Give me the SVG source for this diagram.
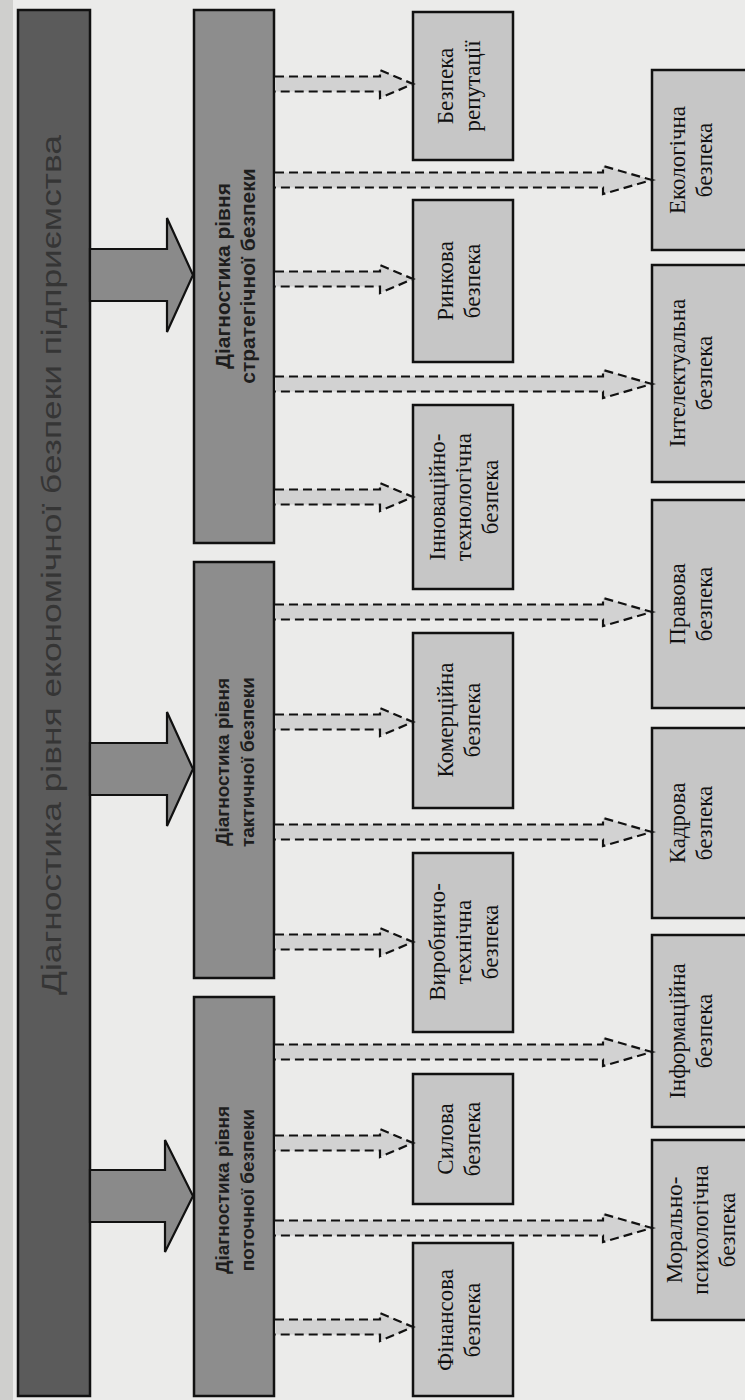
<svg xmlns="http://www.w3.org/2000/svg" width="745" height="1400" viewBox="0 0 745 1400">
<style>
.bg{fill:#ebebea}
.main{fill:#5b5b5b;stroke:#111;stroke-width:2.5}
.diag{fill:#8d8d8d;stroke:#111;stroke-width:2.5}
.box{fill:#c6c6c6;stroke:#111;stroke-width:2.5}
.big{fill:#8a8a8a;stroke:#111;stroke-width:2.2}
.da{fill:#d2d2d2;stroke:#111;stroke-width:2.2;stroke-dasharray:9 5}
.t{font-family:"Liberation Serif","Times New Roman",serif;font-size:23px;fill:#111;text-anchor:middle;dominant-baseline:central}
.td{font-family:"Liberation Sans",Arial,sans-serif;font-size:19px;font-weight:bold;fill:#1e1e1e;text-anchor:middle;dominant-baseline:central}
.tm{font-family:"Liberation Sans",Arial,sans-serif;font-size:27px;fill:#353535;text-anchor:middle;dominant-baseline:central}
</style>
<rect class="bg" x="0" y="0" width="745" height="1400"/>
<rect x="0" y="0" width="13" height="1400" fill="#cfcfcd"/>

<g id="main">
<rect class="main" x="18" y="10" width="72" height="1386"/>
<text class="tm" transform="translate(52,565) rotate(-90)" textLength="860" lengthAdjust="spacingAndGlyphs">Діагностика рівня економічної безпеки підприємства</text>
</g>

<g id="strategic">
<rect class="diag" x="194" y="10" width="80" height="533"/>
<text class="td" style="font-size:21px" transform="translate(234,276) rotate(-90)"><tspan x="0" y="-12.5">Діагностика рівня</tspan><tspan x="0" y="12.5">стратегічної безпеки</tspan></text>
</g>
<g id="tactical">
<rect class="diag" x="194" y="562" width="80" height="416"/>
<text class="td" transform="translate(234,762) rotate(-90)"><tspan x="0" y="-12.5">Діагностика рівня</tspan><tspan x="0" y="12.5">тактичної безпеки</tspan></text>
</g>
<g id="current">
<rect class="diag" x="194" y="997" width="80" height="399"/>
<text class="td" transform="translate(234,1190) rotate(-90)"><tspan x="0" y="-12.5">Діагностика рівня</tspan><tspan x="0" y="12.5">поточної безпеки</tspan></text>
</g>

<g id="reputation">
<rect class="box" x="413" y="12" width="100" height="148"/>
<text class="t" transform="translate(458,86) rotate(-90)"><tspan x="0" y="-13.5">Безпека</tspan><tspan x="0" y="13.5">репутації</tspan></text>
</g>
<g id="market">
<rect class="box" x="413" y="200" width="100" height="162"/>
<text class="t" transform="translate(458,281) rotate(-90)"><tspan x="0" y="-13.5">Ринкова</tspan><tspan x="0" y="13.5">безпека</tspan></text>
</g>
<g id="innovation">
<rect class="box" x="413" y="405" width="100" height="184"/>
<text class="t" transform="translate(463,497) rotate(-90)"><tspan x="0" y="-26.5">Інноваційно-</tspan><tspan x="0" y="0">технологічна</tspan><tspan x="0" y="26.5">безпека</tspan></text>
</g>
<g id="commercial">
<rect class="box" x="413" y="633" width="100" height="175"/>
<text class="t" transform="translate(458,720) rotate(-90)"><tspan x="0" y="-13.5">Комерційна</tspan><tspan x="0" y="13.5">безпека</tspan></text>
</g>
<g id="production">
<rect class="box" x="413" y="853" width="100" height="179"/>
<text class="t" transform="translate(463,942) rotate(-90)"><tspan x="0" y="-26.5">Виробничо-</tspan><tspan x="0" y="0">технічна</tspan><tspan x="0" y="26.5">безпека</tspan></text>
</g>
<g id="force">
<rect class="box" x="413" y="1074" width="100" height="130"/>
<text class="t" transform="translate(458,1139) rotate(-90)"><tspan x="0" y="-13.5">Силова</tspan><tspan x="0" y="13.5">безпека</tspan></text>
</g>
<g id="financial">
<rect class="box" x="413" y="1243" width="100" height="153"/>
<text class="t" transform="translate(458,1320) rotate(-90)"><tspan x="0" y="-13.5">Фінансова</tspan><tspan x="0" y="13.5">безпека</tspan></text>
</g>

<g id="ecological">
<rect class="box" x="652" y="70" width="110" height="180"/>
<text class="t" transform="translate(690,160) rotate(-90)"><tspan x="0" y="-13.5">Екологічна</tspan><tspan x="0" y="13.5">безпека</tspan></text>
</g>
<g id="intellectual">
<rect class="box" x="652" y="265" width="110" height="217"/>
<text class="t" transform="translate(690,373) rotate(-90)"><tspan x="0" y="-13.5">Інтелектуальна</tspan><tspan x="0" y="13.5">безпека</tspan></text>
</g>
<g id="legal">
<rect class="box" x="652" y="500" width="110" height="208"/>
<text class="t" transform="translate(690,604) rotate(-90)"><tspan x="0" y="-13.5">Правова</tspan><tspan x="0" y="13.5">безпека</tspan></text>
</g>
<g id="personnel">
<rect class="box" x="652" y="728" width="110" height="190"/>
<text class="t" transform="translate(690,823) rotate(-90)"><tspan x="0" y="-13.5">Кадрова</tspan><tspan x="0" y="13.5">безпека</tspan></text>
</g>
<g id="information">
<rect class="box" x="652" y="935" width="110" height="192"/>
<text class="t" transform="translate(690,1031) rotate(-90)"><tspan x="0" y="-13.5">Інформаційна</tspan><tspan x="0" y="13.5">безпека</tspan></text>
</g>
<g id="moral">
<rect class="box" x="652" y="1140" width="110" height="180"/>
<text class="t" transform="translate(700,1230) rotate(-90)"><tspan x="0" y="-26.5">Морально-</tspan><tspan x="0" y="0">психологічна</tspan><tspan x="0" y="26.5">безпека</tspan></text>
</g>

<g id="connectors">
<path class="big" d="M90,249 H167 V218 L193,275 L167,332 V301 H90 Z"/>
<path class="big" d="M90,743 H167 V712 L193,769 L167,826 V795 H90 Z"/>
<path class="big" d="M90,1170 H165 V1140 L193,1196 L165,1252 V1222 H90 Z"/>

<path class="da" d="M275,76.5 H380 V70 L413,84 L380,98 V91.5 H275"/>
<path class="da" d="M275,271.5 H380 V265 L413,279 L380,293 V286.5 H275"/>
<path class="da" d="M275,489.5 H380 V483 L413,497 L380,511 V504.5 H275"/>
<path class="da" d="M275,714.5 H380 V708 L413,722 L380,736 V729.5 H275"/>
<path class="da" d="M275,934.5 H380 V928 L413,942 L380,956 V949.5 H275"/>
<path class="da" d="M275,1135.5 H380 V1129 L413,1143 L380,1157 V1150.5 H275"/>
<path class="da" d="M275,1319.5 H380 V1313 L413,1327 L380,1341 V1334.5 H275"/>

<path class="da" d="M275,172.5 H603 V166 L652,180 L603,194 V187.5 H275"/>
<path class="da" d="M275,376.5 H603 V370 L652,384 L603,398 V391.5 H275"/>
<path class="da" d="M275,604.5 H603 V598 L652,612 L603,626 V619.5 H275"/>
<path class="da" d="M275,824.5 H603 V818 L652,832 L603,846 V839.5 H275"/>
<path class="da" d="M275,1044.5 H603 V1038 L652,1052 L603,1066 V1059.5 H275"/>
<path class="da" d="M275,1220.5 H603 V1214 L652,1228 L603,1242 V1235.5 H275"/>
</g>
</svg>
